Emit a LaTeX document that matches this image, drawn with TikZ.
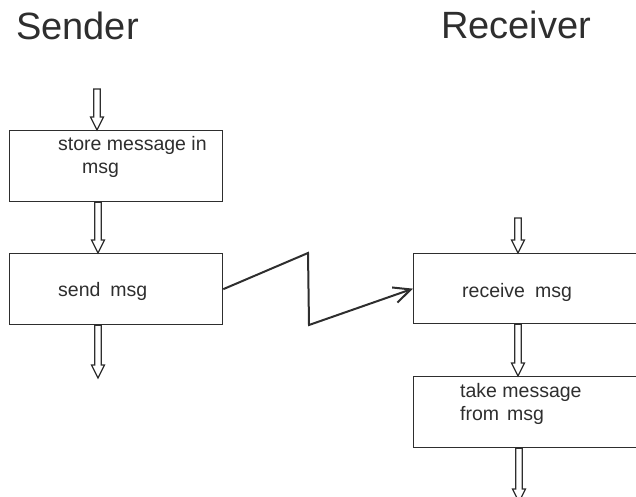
\documentclass[tikz,border=0pt]{standalone}
\usepackage{fontspec}
\setmainfont{Liberation Sans}
\usetikzlibrary{arrows.meta,calc}

\definecolor{ink}{HTML}{2E2E2E}

\tikzset{
  box/.style={draw=ink, line width=1.3pt, inner sep=0pt, anchor=north west},
  label/.style={text=ink, font=\fontsize{19.5}{23}\selectfont, inner sep=0pt, anchor=base west},
  title/.style={text=ink, font=\fontsize{38}{44}\selectfont, inner sep=0pt, anchor=base west},
  hollow/.style={draw=ink, fill=white, line width=1.2pt, line join=miter},
  zig/.style={draw=ink, line width=2pt, line join=miter,
    -{Straight Barb[length=17pt,width=16pt,line width=2pt]}},
}

% hollow block arrow pointing down: #1 = x position, #2 = start, #3 = tip
\newcommand\hollowdown[3]{%
  \path[hollow] let \p1=(#2), \p2=(#3) in
    (#1-3.3pt,\y1) -- (#1-3.3pt,\y2+13pt) -- (#1-6.5pt,\y2+13pt) --
    (#1,\y2) -- (#1+6.5pt,\y2+13pt) -- (#1+3.3pt,\y2+13pt) --
    (#1+3.3pt,\y1) -- cycle;}

\begin{document}
\begin{tikzpicture}[x=1pt,y=-1pt]
  \useasboundingbox (0,0) rectangle (636,497);
  \clip (0,0) rectangle (636,497);

  % column headings
  \node[title] (sender) at (16,40) {Sender};
  \node[title] (receiver) at (441,39) {Receiver};

  % sender side
  \node[box, minimum width=213pt, minimum height=71pt] (store) at (9,130) {};
  \node[box, minimum width=213pt, minimum height=71pt] (send) at (9,253) {};
  \node[label] (storeA) at (58,150) {store message in};
  \node[label] (storeB) at (82,173) {msg};
  \node[label] (sendT) at (58,296) {send\hspace{10pt}msg};

  % receiver side (boxes run past the right edge)
  \node[box, minimum width=232pt, minimum height=70pt] (recv) at (413,253) {};
  \node[box, minimum width=232pt, minimum height=71pt] (take) at (413,376) {};
  \node[label] (recvT) at (462,297) {receive\hspace{10pt}msg};
  \node[label] (takeA) at (460,397) {take message};
  \node[label] (takeB) at (460,420) {from\hspace{8pt}msg};

  % free ends of the flow arrows
  \coordinate (sIn) at (97,89);
  \coordinate (sOut) at (98,378);
  \coordinate (rIn) at (518,218);
  \coordinate (rOut) at (519,502);

  % flow arrows
  \hollowdown{97pt}{sIn}{store.north}
  \hollowdown{98pt}{store.south}{send.north}
  \hollowdown{98pt}{send.south}{sOut}
  \hollowdown{518pt}{rIn}{recv.north}
  \hollowdown{518pt}{recv.south}{take.north}
  \hollowdown{519pt}{take.south}{rOut}

  % message transfer
  \coordinate (z1) at (308,253);
  \coordinate (z2) at (309,325);
  \draw[zig] (send.east) -- (z1) -- (z2) -- (recv.west);
\end{tikzpicture}
\end{document}
